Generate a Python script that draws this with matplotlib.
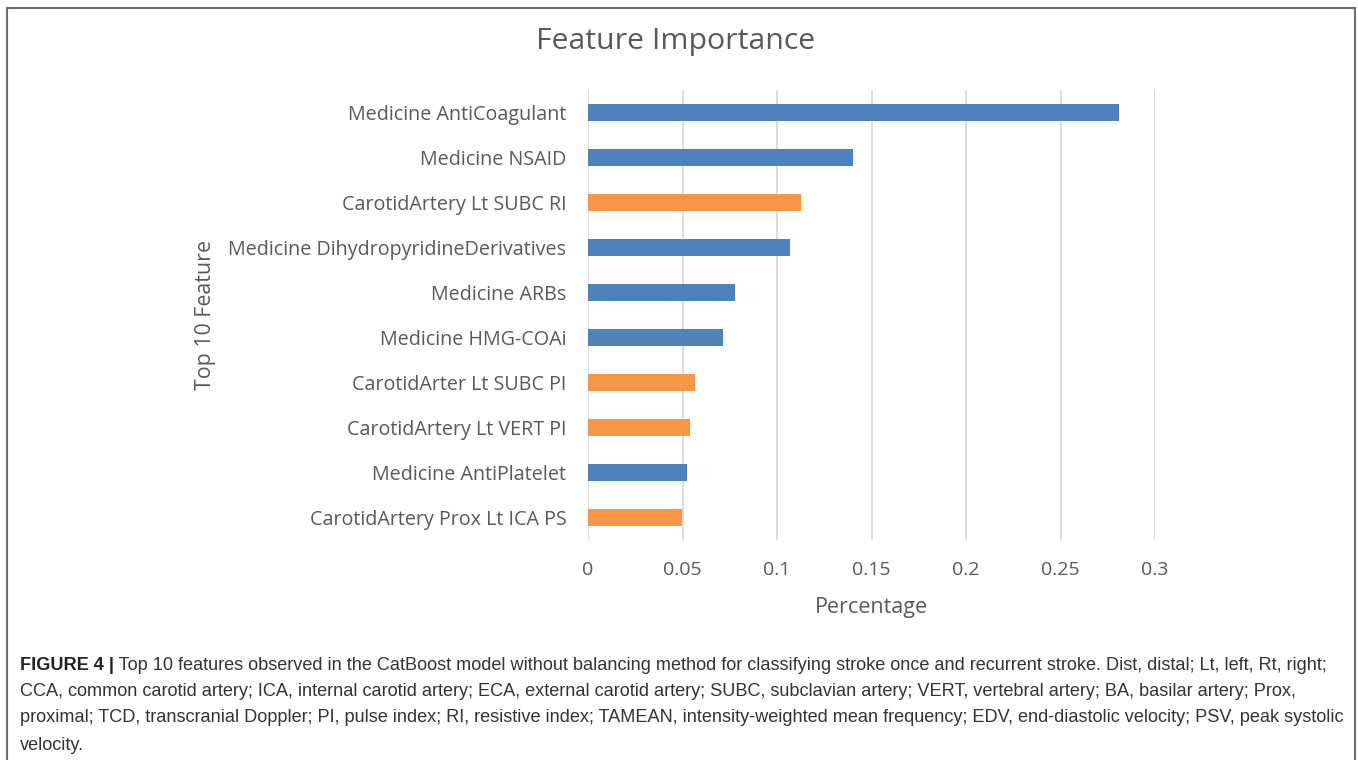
import matplotlib
matplotlib.use('Agg')
import matplotlib.pyplot as plt
from matplotlib.patches import Rectangle

# feature importances, top to bottom
features = ['Medicine AntiCoagulant', 'Medicine NSAID', 'CarotidArtery Lt SUBC RI',
            'Medicine DihydropyridineDerivatives', 'Medicine ARBs', 'Medicine HMG-COAi',
            'CarotidArter Lt SUBC PI', 'CarotidArtery Lt VERT PI', 'Medicine AntiPlatelet',
            'CarotidArtery Prox Lt ICA PS']
importance = [0.281, 0.140, 0.1125, 0.107, 0.078, 0.0715, 0.0565, 0.054, 0.0525, 0.0497]
is_carotid = [False, False, True, False, False, False, True, True, False, True]
xticks = [0, 0.05, 0.1, 0.15, 0.2, 0.25, 0.3]
xtick_labels = ['0', '0.05', '0.1', '0.15', '0.2', '0.25', '0.3']

caption_head = 'FIGURE 4 |'
caption_lines = [
    ' Top 10 features observed in the CatBoost model without balancing method for classifying stroke once and recurrent stroke. Dist, distal; Lt, left, Rt, right;',
    'CCA, common carotid artery; ICA, internal carotid artery; ECA, external carotid artery; SUBC, subclavian artery; VERT, vertebral artery; BA, basilar artery; Prox,',
    'proximal; TCD, transcranial Doppler; PI, pulse index; RI, resistive index; TAMEAN, intensity-weighted mean frequency; EDV, end-diastolic velocity; PSV, peak systolic',
    'velocity.',
]

BLUE = '#4F81BD'
ORANGE = '#F79646'
GREY = '#595959'
W, H = 1358, 760

plt.rcParams['font.family'] = ['Open Sans', 'DejaVu Sans']

fig = plt.figure(figsize=(W / 100, H / 100), dpi=100)
fig.patch.set_facecolor('white')

ax = fig.add_axes([588 / W, 1 - 540 / H, (1155 - 588) / W, (540 - 90) / H])
ypos = list(range(len(features)))
colors = [ORANGE if c else BLUE for c in is_carotid]
ax.barh(ypos, importance, height=0.36, color=colors, zorder=3)
ax.set_ylim(len(features) - 0.5, -0.5)
ax.set_xlim(0, 0.3)
ax.set_yticks(ypos)
ax.set_yticklabels(features, fontsize=14.2, color=GREY)
ax.set_xticks(xticks)
ax.set_xticklabels(xtick_labels, fontsize=14, color=GREY)
ax.tick_params(axis='both', length=0)
ax.tick_params(axis='y', pad=15.5)
ax.tick_params(axis='x', pad=15)
ax.xaxis.grid(True, color='#D9D9D9', linewidth=1.3, zorder=0)
for s in ax.spines.values():
    s.set_visible(False)

ax.set_xlabel('Percentage', fontsize=15.5, color=GREY, labelpad=13)
fig.text(205 / W, 1 - 315 / H, 'Top 10 Feature', rotation=90, fontsize=15.4,
         color=GREY, ha='center', va='center')
fig.text(676 / W, 1 - 42 / H, 'Feature Importance', fontsize=21.8, color=GREY,
         ha='center', va='center')

# outer frame of the figure panel
fig.patches.append(Rectangle((7 / W, -0.05), (1355 - 7) / W, 1.05 - 8 / H,
                             transform=fig.transFigure, fill=False,
                             edgecolor='#6E6E6E', linewidth=1.5))

# caption, bold lead then regular text
cap_font = ['Liberation Sans', 'DejaVu Sans']
cap_size = 13.1
line_y = [665, 692, 718, 745]
head = fig.text(20 / W, 1 - line_y[0] / H, caption_head, fontsize=cap_size, weight='bold',
                family=cap_font, color='#222222', va='center')
fig.canvas.draw()
bb = head.get_window_extent(fig.canvas.get_renderer())
fig.text(bb.x1 / W, 1 - line_y[0] / H, caption_lines[0], fontsize=cap_size,
         family=cap_font, color='#333333', va='center')
for txt, y in zip(caption_lines[1:], line_y[1:]):
    fig.text(20 / W, 1 - y / H, txt, fontsize=cap_size, family=cap_font,
             color='#333333', va='center')

fig.savefig('out.png', dpi=100)
